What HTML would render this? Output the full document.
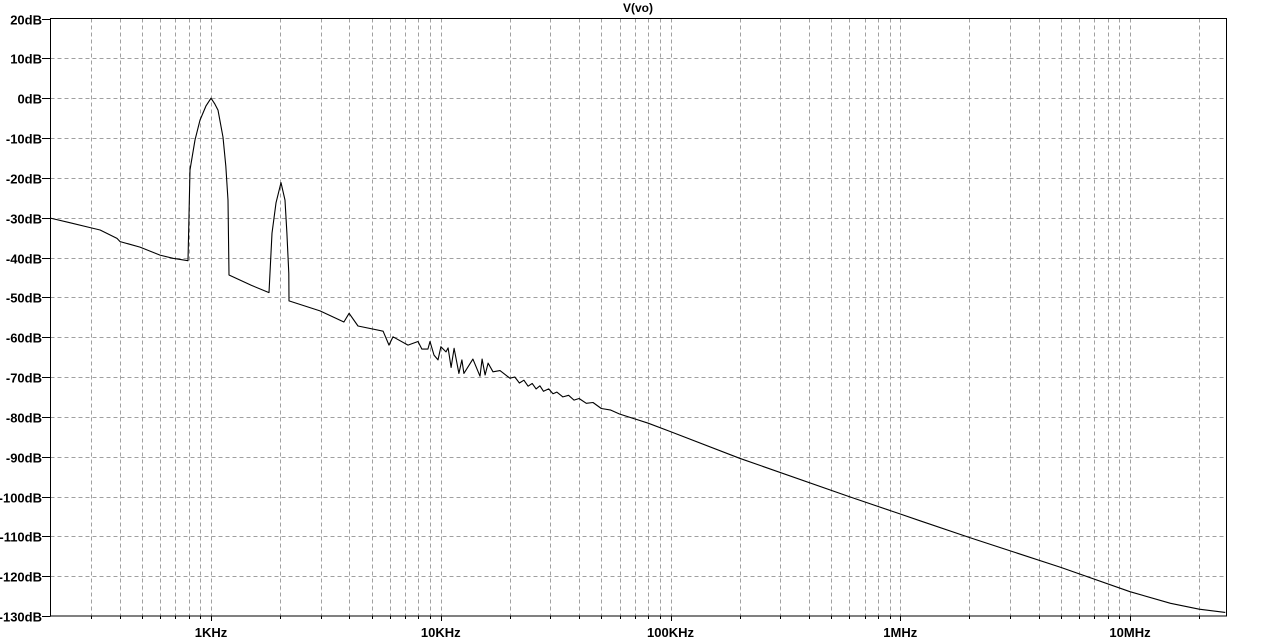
<!DOCTYPE html>
<html><head><meta charset="utf-8"><style>
html,body{margin:0;padding:0;background:#fff;}
svg{display:block;font-family:"Liberation Sans",Arial,sans-serif;}
</style></head><body>
<svg id="chart" width="1284" height="642" viewBox="0 0 1284 642" xmlns="http://www.w3.org/2000/svg">
<rect x="0" y="0" width="1284" height="642" fill="#fff"/>
<text x="638" y="12" text-anchor="middle" font-size="12" font-weight="bold" fill="#000">V(vo)</text>
<g id="grid"></g>
<g id="axes"></g>
<path id="trace" fill="none" stroke="#000" stroke-width="1.1" stroke-linejoin="round"/>
<rect x="50.5" y="18.5" width="1176" height="597.5" fill="none" stroke="#000" stroke-width="1"/>
</svg>
<script>
const freqs = [200,244,298,329,390,402,491,600,683,794,810,852,896,950,1000,1040,1073,1128,1160,1186,1198,1500,1788,1842,1918,2016,2100,2140,2180,2185,2980,3790,3990,4365,5610,5955,6195,7200,7960,8280,8790,8980,9350,9730,10020,10540,10760,11090,11430,12000,12360,12610,13800,14820,15130,15600,16070,16880,18100,20000,21000,22000,23000,24000,25000,26000,27000,28000,29500,30800,32000,34000,36000,38000,40000,43000,46000,50000,55000,60000,80000,100000,200000,604000,1000000,1220000,2000000,5000000,10000000,15000000,20000000,26000000];
const dbs = [-30.1,-31.3,-32.5,-33.1,-35.2,-36,-37.4,-39.4,-40.2,-40.8,-18,-10.5,-5.5,-2,0,-1.5,-3,-9.8,-17,-25.6,-44.4,-47,-48.8,-33.9,-26.3,-21.2,-25.6,-33.9,-44,-50.9,-53.4,-56.2,-54.0,-57.2,-58.5,-62.0,-59.9,-62.0,-61.1,-63.0,-63.0,-61.1,-64.5,-65.7,-62.4,-63.7,-62.7,-67.6,-62.8,-69.1,-65.7,-69.1,-65.5,-69.8,-65.5,-69.5,-66.5,-68.7,-68.4,-70.3,-70.0,-71.5,-70.8,-72.3,-71.6,-73.0,-72.2,-73.6,-73.0,-74.2,-73.8,-75.0,-74.6,-75.8,-75.4,-76.6,-76.4,-77.9,-78.3,-79.3,-81.6,-83.7,-90.4,-100.1,-104.4,-106.1,-110.3,-117.8,-123.9,-126.8,-128.3,-129.1];
const yTicks = [20,10,0,-10,-20,-30,-40,-50,-60,-70,-80,-90,-100,-110,-120,-130];
const yTickLabels = ["20dB","10dB","0dB","-10dB","-20dB","-30dB","-40dB","-50dB","-60dB","-70dB","-80dB","-90dB","-100dB","-110dB","-120dB","-130dB"];
const xDecades = [1000,10000,100000,1000000,10000000];
const xTickLabels = ["1KHz","10KHz","100KHz","1MHz","10MHz"];

const L=50.5,R=1226.5,T=18.5,B=616;
const fMin=Math.pow(10,3-(211-L)/229.75), fMax=Math.pow(10,3+(R-211)/229.75);
function xs(f){return L+(Math.log10(f)-Math.log10(fMin))/(Math.log10(fMax)-Math.log10(fMin))*(R-L);}
function ys(d){return T+(20-d)/150*(B-T);}
const NS="http://www.w3.org/2000/svg";
const grid=document.getElementById('grid'), axes=document.getElementById('axes');
function ln(p,x1,y1,x2,y2,dash){const l=document.createElementNS(NS,'line');l.setAttribute('x1',x1);l.setAttribute('y1',y1);l.setAttribute('x2',x2);l.setAttribute('y2',y2);l.setAttribute('stroke',dash?'#a0a0a0':'#000');l.setAttribute('stroke-width','1');if(dash)l.setAttribute('stroke-dasharray','4,3');p.appendChild(l);return l;}
for(let e=2;e<=7;e++){for(let m=1;m<=9;m++){const f=m*Math.pow(10,e);if(f<=fMin*1.001||f>=fMax)continue;const x=Math.round(xs(f))+0.5;
const g=ln(grid,x,T,x,B,true);


const tk=ln(axes,x,B,x,B+(m===1?5:3),false);

}}
yTicks.forEach((d,i)=>{const y=Math.round(ys(d))+0.5;
if(i>0&&i<yTicks.length-1){const g=ln(grid,L,y,R,y,true);

}
const tk=ln(axes,42,y,L,y,false);


const t=document.createElementNS(NS,'text');t.setAttribute('x',42);t.setAttribute('y',y+5);t.setAttribute('text-anchor','end');t.setAttribute('font-size','13');t.setAttribute('font-weight','bold');t.textContent=yTickLabels[i];


axes.appendChild(t);});
xDecades.forEach((f,i)=>{const t=document.createElementNS(NS,'text');t.setAttribute('x',xs(f));t.setAttribute('y',637);t.setAttribute('text-anchor','middle');t.setAttribute('font-size','13');t.setAttribute('font-weight','bold');t.textContent=xTickLabels[i];


axes.appendChild(t);});
let d='';freqs.forEach((f,i)=>{d+=(i?'L':'M')+xs(f).toFixed(1)+','+ys(dbs[i]).toFixed(1);});
document.getElementById('trace').setAttribute('d',d);
</script>
</body></html>
